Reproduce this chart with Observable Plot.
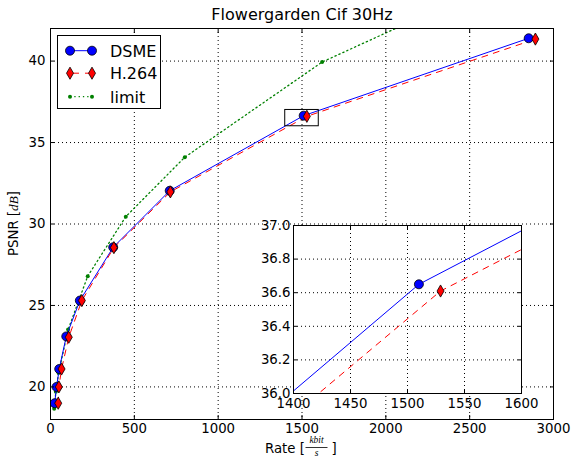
<!DOCTYPE html>
<html>
<head>
<meta charset="utf-8">
<script src="https://cdn.jsdelivr.net/npm/d3@7"></script>
<script src="https://cdn.jsdelivr.net/npm/@observablehq/plot@0.6"></script>
<style>
  html, body { margin: 0; padding: 0; background: white; }
  #wrap { position: relative; width: 573px; height: 459px; }
  #wrap svg { display: block; }
</style>
</head>
<body>
<div id="wrap"></div>
<script>
// ---- data ----
const titleText = "Flowergarden Cif 30Hz";
const seriesNames = ["DSME", "H.264", "limit"];
const dsmeRate = [25, 36, 52, 94, 175, 374, 711, 1510, 2852];
const dsmePsnr = [19.0, 20.0, 21.1, 23.1, 25.3, 28.57, 32.04, 36.65, 41.4];
const h264Rate = [46, 50, 66, 109, 187, 378, 715, 1529, 2892];
const h264Psnr = [19.0, 20.0, 21.1, 23.05, 25.3, 28.55, 31.97, 36.61, 41.35];
const limitRate = [22, 32, 48, 105, 222, 449, 801, 1620, 2500];
const limitPsnr = [18.66, 19.7, 20.85, 23.52, 26.8, 30.45, 34.1, 39.94, 44.08];
const xTicks = [0, 500, 1000, 1500, 2000, 2500, 3000];
const yTicks = [20, 25, 30, 35, 40];
const xDomain = [0, 3000];
const yDomain = [18, 42];
const zoomX = [1400, 1600];
const zoomY = [36.0, 37.0];
const insetXTicks = [1400, 1450, 1500, 1550, 1600];
const insetYTicks = [36.0, 36.2, 36.4, 36.6, 36.8, 37.0];

const dsme = dsmeRate.map((r, i) => ({rate: r, psnr: dsmePsnr[i]}));
const h264 = h264Rate.map((r, i) => ({rate: r, psnr: h264Psnr[i]}));
const limit = limitRate.map((r, i) => ({rate: r, psnr: limitPsnr[i]}));
const zoomBox = [{x1: zoomX[0], x2: zoomX[1], y1: zoomY[0], y2: zoomY[1]}];

const BLUE = "#0000ff", RED = "#ff0000", GREEN = "#008000";
const FONT = "DejaVu Sans, sans-serif";
const intFmt = d3.format("d");

const thinDiamond = {
  draw(ctx, size) {
    const r = Math.sqrt(size / Math.PI);
    ctx.moveTo(0, -r * 1.35);
    ctx.lineTo(r * 0.78, 0);
    ctx.lineTo(0, r * 1.35);
    ctx.lineTo(-r * 0.78, 0);
    ctx.closePath();
  }
};

const grid = {stroke: "black", strokeOpacity: 1, strokeDasharray: "1,3", strokeWidth: 1};

function seriesMarks(clip) {
  return [
    Plot.line(limit, {x: "rate", y: "psnr", stroke: GREEN, strokeWidth: 1.3, strokeDasharray: "1.3,3", clip}),
    Plot.dot(limit, {x: "rate", y: "psnr", r: 2, fill: GREEN, clip}),
    Plot.line(dsme, {x: "rate", y: "psnr", stroke: BLUE, strokeWidth: 1, clip}),
    Plot.line(h264, {x: "rate", y: "psnr", stroke: RED, strokeWidth: 1, strokeDasharray: "6,6", clip}),
    Plot.dot(dsme, {x: "rate", y: "psnr", r: 4.5, fill: BLUE, stroke: "black", strokeWidth: 0.8, clip}),
    Plot.dot(h264, {x: "rate", y: "psnr", r: 4.5, symbol: thinDiamond, fill: RED, stroke: "black", strokeWidth: 0.8, clip})
  ];
}

const main = Plot.plot({
  width: 573, height: 459,
  marginLeft: 50, marginRight: 20, marginTop: 28, marginBottom: 40,
  style: {fontFamily: FONT, fontSize: "13.3px", background: "white", color: "black"},
  x: {domain: xDomain},
  y: {domain: yDomain},
  marks: [
    Plot.gridX(xTicks, grid),
    Plot.gridY(yTicks, grid),
    ...seriesMarks(true),
    Plot.rect(zoomBox, {x1: "x1", x2: "x2", y1: "y1", y2: "y2", fill: "none", stroke: "black", strokeWidth: 1}),
    Plot.frame({stroke: "black", strokeWidth: 1}),
    Plot.axisX(xTicks, {anchor: "bottom", tickSize: -4, tickPadding: 8, tickFormat: intFmt, label: null, stroke: "black"}),
    Plot.axisX(xTicks, {anchor: "top", tickSize: -4, tickFormat: () => "", label: null, stroke: "black"}),
    Plot.axisY(yTicks, {anchor: "left", tickSize: -4, tickPadding: 9, tickFormat: intFmt, label: null, stroke: "black"}),
    Plot.axisY(yTicks, {anchor: "right", tickSize: -4, tickFormat: () => "", label: null, stroke: "black"}),
    Plot.text([titleText], {frameAnchor: "top", dy: -14, fontSize: 16, fill: "black", lineAnchor: "middle"})
  ]
});

const inset = Plot.plot({
  width: 308, height: 203,
  marginLeft: 45, marginRight: 35, marginTop: 10, marginBottom: 25,
  style: {fontFamily: FONT, fontSize: "13.3px", background: "transparent", color: "black"},
  x: {domain: zoomX},
  y: {domain: zoomY},
  marks: [
    Plot.frame({fill: "white", stroke: "none"}),
    Plot.gridX(insetXTicks, grid),
    Plot.gridY(insetYTicks, grid),
    ...seriesMarks(true),
    Plot.frame({stroke: "black", strokeWidth: 1}),
    Plot.axisX(insetXTicks, {anchor: "bottom", tickSize: -4, tickPadding: 9, tickFormat: intFmt, label: null, stroke: "black"}),
    Plot.axisX(insetXTicks, {anchor: "top", tickSize: -4, tickFormat: () => "", label: null, stroke: "black"}),
    Plot.axisY(insetYTicks, {anchor: "left", tickSize: -4, tickPadding: 7, tickFormat: d3.format(".1f"), label: null, stroke: "black"}),
    Plot.axisY(insetYTicks, {anchor: "right", tickSize: -4, tickFormat: () => "", label: null, stroke: "black"})
  ]
});

const wrap = document.getElementById("wrap");
wrap.appendChild(main);
inset.style.position = "absolute";
inset.style.left = "247.7px";
inset.style.top = "215px";
inset.style.maxWidth = "none";
wrap.appendChild(inset);

// axis labels and legend (layout decorations)
const svg = d3.select(main);
const cx = (50 + 553) / 2;

// y label
const yl = svg.append("text")
  .attr("transform", `translate(18,${(28 + 419) / 2}) rotate(-90)`)
  .attr("text-anchor", "middle")
  .attr("font-family", FONT).attr("font-size", 13.3).attr("fill", "black");
yl.append("tspan").text("PSNR [");
yl.append("tspan").text("dB").attr("font-family", "Liberation Serif, serif").attr("font-style", "italic");
yl.append("tspan").text("]");

// x label with fraction
const xl = svg.append("g").attr("font-family", FONT).attr("font-size", 13.3).attr("fill", "black")
  .attr("text-anchor", "start");
xl.append("text").attr("x", cx - 36.5).attr("y", 452.5).text("Rate [");
xl.append("text").attr("x", cx + 15).attr("y", 443).attr("text-anchor", "middle")
  .attr("font-family", "Liberation Serif, serif").attr("font-style", "italic").attr("font-size", 9.5).text("kbit");
xl.append("line").attr("x1", cx + 4).attr("x2", cx + 26).attr("y1", 447.5).attr("y2", 447.5)
  .attr("stroke", "black").attr("stroke-width", 0.8);
xl.append("text").attr("x", cx + 15).attr("y", 456).attr("text-anchor", "middle")
  .attr("font-family", "Liberation Serif, serif").attr("font-style", "italic").attr("font-size", 9.5).text("s");
xl.append("text").attr("x", cx + 30).attr("y", 452.5).text("]");

// legend
const lg = svg.append("g").attr("text-anchor", "start");
lg.append("rect").attr("x", 57.5).attr("y", 35.5).attr("width", 103).attr("height", 73)
  .attr("fill", "white").attr("stroke", "black").attr("stroke-width", 1);
const rowsY = [50.7, 73.2, 96.7];
const diamondPath = d3.symbol(thinDiamond, Math.PI * 4.5 * 4.5)();
seriesNames.forEach((name, i) => {
  const y = rowsY[i];
  const g = lg.append("g");
  const ln = g.append("line").attr("x1", 70).attr("x2", 92).attr("y1", y).attr("y2", y);
  if (i === 0) ln.attr("stroke", BLUE).attr("stroke-width", 1);
  if (i === 1) ln.attr("stroke", RED).attr("stroke-width", 1).attr("stroke-dasharray", "6,6").attr("stroke-dashoffset", -3);
  if (i === 2) ln.attr("stroke", GREEN).attr("stroke-width", 1.3).attr("stroke-dasharray", "1.3,3");
  [70, 92].forEach(px => {
    if (i === 0) g.append("circle").attr("cx", px).attr("cy", y).attr("r", 4.5).attr("fill", BLUE).attr("stroke", "black").attr("stroke-width", 0.8);
    if (i === 1) g.append("path").attr("d", diamondPath).attr("transform", `translate(${px},${y})`).attr("fill", RED).attr("stroke", "black").attr("stroke-width", 0.8);
    if (i === 2) g.append("circle").attr("cx", px).attr("cy", y).attr("r", 2).attr("fill", GREEN);
  });
  g.append("text").attr("x", 110).attr("y", y + 5.8).attr("font-family", FONT).attr("font-size", 16)
    .attr("fill", "black").text(name);
});
</script>
</body>
</html>
